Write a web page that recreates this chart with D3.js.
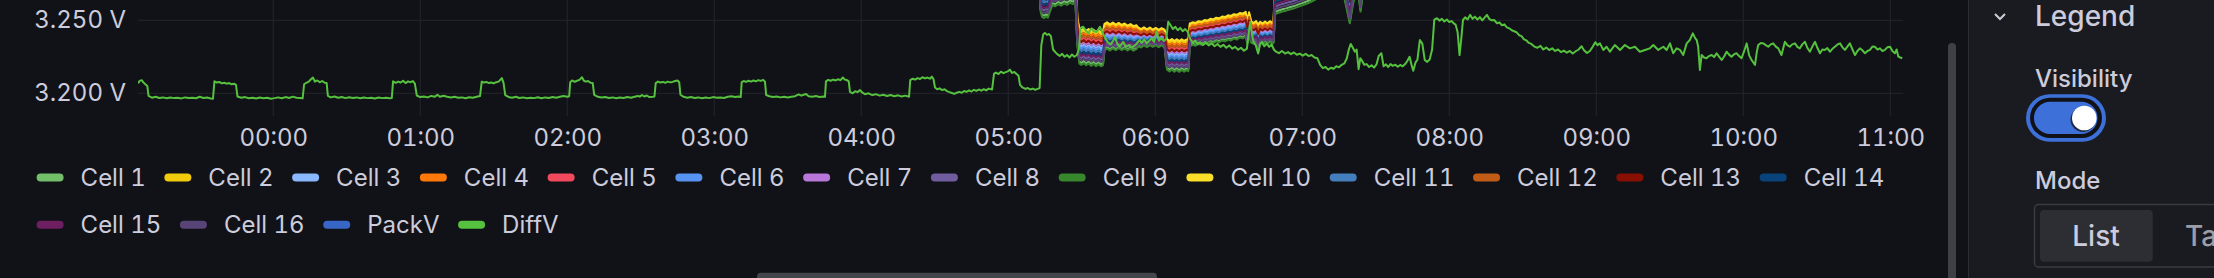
<!DOCTYPE html>
<html>
<head>
<meta charset="utf-8">
<script src="https://cdn.jsdelivr.net/npm/d3@7"></script>
<style>
  html, body { margin: 0; padding: 0; background: #111217; overflow: hidden; }
  svg { display: block; font-family: Inter, "Noto Sans", sans-serif; font-variant-numeric: tabular-nums; font-feature-settings: "tnum"; }
</style>
</head>
<body>
<svg id="chart" width="2214" height="278"></svg>
<script>
// series shown in the legend, in panel order
const seriesNames = ["Cell 1", "Cell 2", "Cell 3", "Cell 4", "Cell 5", "Cell 6", "Cell 7", "Cell 8",
  "Cell 9", "Cell 10", "Cell 11", "Cell 12", "Cell 13", "Cell 14", "Cell 15", "Cell 16", "PackV", "DiffV"];
const seriesColors = ["#73BF69", "#F2CC0C", "#8AB8FF", "#FF780A", "#F2495C", "#5794F2", "#B877D9", "#705DA0",
  "#37872D", "#FADE2A", "#447EBC", "#C15C17", "#890F02", "#0A437C", "#6D1F62", "#584477", "#3866C7", "#56C13E"];

const yTicks = [3.2, 3.25];

// DiffV: [minutes from 00:00, volts]
const diffV = [
  [-55.2, 3.2068], [-54.5, 3.2085], [-53.7, 3.2090], [-53, 3.2075], [-52.2, 3.2062], [-51.4, 3.2050], [-50.9, 3.1982],
  [-49.5, 3.1970], [-48, 3.1976], [-46.5, 3.1968], [-45, 3.1972], [-43.5, 3.1966], [-42, 3.1971], [-40.5, 3.1967],
  [-39, 3.1969], [-37.5, 3.1965], [-36, 3.1972], [-34.5, 3.1968], [-33, 3.1970], [-31.5, 3.1966], [-30, 3.1976],
  [-28.5, 3.1968], [-27, 3.1971], [-25.5, 3.1965], [-24.6, 3.1963], [-24, 3.2082], [-23, 3.2074], [-22, 3.2078],
  [-21, 3.2068], [-20, 3.2072], [-19, 3.2066], [-18, 3.2070], [-17, 3.2062], [-16, 3.2066], [-15.2, 3.2058],
  [-14.6, 3.1978], [-13, 3.1970], [-11.5, 3.1974], [-10, 3.1966], [-8.5, 3.1970], [-7, 3.1965], [-5.5, 3.1971],
  [-4, 3.1966], [-2.5, 3.1969], [-1, 3.1963], [0.5, 3.1967], [2, 3.1972], [3.5, 3.1966], [5, 3.1974], [6.5, 3.1968],
  [8, 3.1977], [9.5, 3.1970], [11, 3.1968], [12, 3.1966], [12.6, 3.2062], [13.5, 3.2072], [14.5, 3.2080],
  [15.5, 3.2098], [16.2, 3.2108], [17, 3.2080], [18, 3.2088], [19, 3.2076], [20, 3.2084], [21, 3.2072],
  [21.8, 3.2070], [22.3, 3.1982], [23.5, 3.1972], [25, 3.1978], [26.5, 3.1970], [28, 3.1975], [29.5, 3.1967],
  [31, 3.1973], [32.5, 3.1968], [34, 3.1972], [35.5, 3.1966], [37, 3.1971], [38.5, 3.1967], [40, 3.1970],
  [41.5, 3.1965], [43, 3.1971], [44.5, 3.1967], [46, 3.1970], [47.5, 3.1966], [48.4, 3.1968], [48.9, 3.2082],
  [50, 3.2072], [51, 3.2080], [52, 3.2074], [53, 3.2086], [54, 3.2070], [55, 3.2082], [56, 3.2076], [57, 3.2084],
  [57.8, 3.2066], [58.6, 3.1985], [60, 3.1974], [61.5, 3.1978], [63, 3.1972], [64.5, 3.1982], [66, 3.1977],
  [67, 3.1990], [68, 3.1976], [69.5, 3.1983], [71, 3.1976], [72.5, 3.1972], [74, 3.1976], [75.5, 3.1969],
  [77, 3.1972], [78.5, 3.1966], [80, 3.1973], [81.5, 3.1970], [83, 3.1976], [84.4, 3.1981], [85.1, 3.2080],
  [86, 3.2074], [87, 3.2078], [88, 3.2070], [89, 3.2074], [90, 3.2068], [91, 3.2076], [92, 3.2080], [93.3, 3.2104],
  [94, 3.2072], [94.7, 3.1988], [96, 3.1975], [97.5, 3.1970], [99, 3.1976], [100.5, 3.1968], [102, 3.1972],
  [103.5, 3.1966], [105, 3.1970], [106.5, 3.1967], [108, 3.1973], [109.5, 3.1966], [111, 3.1972], [112.5, 3.1968],
  [114, 3.1975], [115.5, 3.1970], [117, 3.1976], [118.5, 3.1982], [120, 3.1977], [120.8, 3.1980], [121.2, 3.2076],
  [122, 3.2088], [123, 3.2079], [124, 3.2086], [125, 3.2092], [126, 3.2110], [126.8, 3.2086], [127.6, 3.2080],
  [128.5, 3.2084], [129.5, 3.2072], [130.4, 3.2070], [131, 3.1990], [132.5, 3.1976], [134, 3.1971], [135.5, 3.1975],
  [137, 3.1968], [138.5, 3.1972], [140, 3.1966], [141.5, 3.1971], [143, 3.1968], [144.5, 3.1974], [146, 3.1969],
  [147.5, 3.1976], [148.8, 3.1982], [149.6, 3.1977], [150.5, 3.1988], [151.5, 3.1978], [152.5, 3.1985],
  [153.5, 3.1974], [155, 3.1976], [155.6, 3.1978], [156.1, 3.2070], [157, 3.2080], [158, 3.2074], [159, 3.2078],
  [160, 3.2072], [161, 3.2080], [162, 3.2075], [163, 3.2078], [164, 3.2084], [165, 3.2088], [165.7, 3.2076],
  [166.2, 3.1990], [167.5, 3.1976], [169, 3.1970], [170.5, 3.1974], [172, 3.1968], [173.5, 3.1972], [175, 3.1966],
  [176.5, 3.1971], [178, 3.1967], [179.5, 3.1974], [181, 3.1969], [182.5, 3.1972], [184, 3.1968], [185.5, 3.1976],
  [187, 3.1980], [188.5, 3.1974], [190, 3.1978], [190.8, 3.1974], [191.2, 3.2076], [192, 3.2084], [193, 3.2078],
  [194, 3.2086], [195, 3.2080], [196, 3.2088], [197, 3.2082], [198, 3.2090], [199, 3.2085], [200, 3.2092],
  [200.7, 3.2080], [201.2, 3.1988], [202.5, 3.1980], [204, 3.1974], [205.5, 3.1978], [207, 3.1972], [208.5, 3.1977],
  [210, 3.1971], [211.5, 3.1976], [213, 3.1980], [214.5, 3.1992], [215.5, 3.1984], [216.5, 3.1990], [217.5, 3.1995],
  [218.5, 3.1980], [220, 3.1976], [221.5, 3.1981], [223, 3.1975], [224.5, 3.1978], [225.2, 3.1976], [225.6, 3.2082],
  [226.5, 3.2092], [227.5, 3.2086], [228.5, 3.2094], [229.5, 3.2088], [230.5, 3.2096], [231.5, 3.2090],
  [232.5, 3.2108], [233.3, 3.2094], [234.2, 3.2090], [234.9, 3.2082], [235.4, 3.2010], [236.5, 3.2000],
  [237.5, 3.2014], [238.5, 3.2008], [239.5, 3.2022], [240.5, 3.2004], [241.5, 3.1994], [243, 3.2000],
  [244.5, 3.1988], [246, 3.1994], [247.5, 3.1984], [249, 3.1990], [250.5, 3.1982], [252, 3.1988], [253.5, 3.1980],
  [255, 3.1986], [256.5, 3.1978], [258, 3.1984], [259.5, 3.1976], [260, 3.2090], [261, 3.2100], [262, 3.2094],
  [263, 3.2104], [264, 3.2098], [265, 3.2110], [266, 3.2102], [267, 3.2108], [268, 3.2100], [268.8, 3.2114],
  [269.5, 3.2096], [270.1, 3.2040], [271, 3.2028], [272, 3.2034], [273, 3.2022], [274, 3.2028], [275, 3.2015],
  [276, 3.2008], [277, 3.2002], [278, 3.1996], [279, 3.2004], [280, 3.2010], [281, 3.2004], [282, 3.2016],
  [283, 3.2010], [284, 3.2020], [285, 3.2012], [286, 3.2024], [287, 3.2016], [288, 3.2026], [289, 3.2018],
  [290, 3.2028], [291, 3.2020], [292, 3.2032], [293.4, 3.2026], [294.2, 3.2135], [295, 3.2142], [296, 3.2132],
  [297, 3.2148], [298, 3.2138], [299, 3.2145], [300, 3.2152], [300.7, 3.2162], [301.5, 3.2140], [302.5, 3.2146],
  [303.5, 3.2130], [304.2, 3.2120], [304.8, 3.2058], [305.8, 3.2040], [307, 3.2030], [308, 3.2036], [309, 3.2026],
  [310, 3.2032], [311, 3.2024], [312, 3.2030], [312.8, 3.2036], [313.5, 3.2330], [314.3, 3.2405], [315, 3.2414],
  [315.8, 3.2400], [316.6, 3.2406], [317.4, 3.2392], [318.3, 3.2300], [319.2, 3.2282], [320, 3.2268],
  [321, 3.2256], [322, 3.2270], [323, 3.2250], [324, 3.2262], [325, 3.2245], [326, 3.2266], [327, 3.2250],
  [328, 3.2262], [328.8, 3.2300], [329.5, 3.2448], [330.6, 3.2456], [331.6, 3.2430], [332.7, 3.2411],
  [334, 3.2445], [335, 3.2425], [336.1, 3.2420], [337.4, 3.2456], [338.6, 3.2411], [339.6, 3.2378],
  [340.6, 3.2350], [341.8, 3.2335], [342.8, 3.2360], [343.6, 3.2385], [344.5, 3.2338], [345.5, 3.2322],
  [346.9, 3.2353], [348, 3.2318], [349.2, 3.2330], [350.3, 3.2315], [351.2, 3.2322], [352.4, 3.2340],
  [353.5, 3.2365], [354.5, 3.2345], [355.5, 3.2370], [356.5, 3.2342], [357.5, 3.2360], [358.5, 3.2375],
  [359.5, 3.2352], [360.6, 3.2425], [361.5, 3.2360], [362.5, 3.2378], [363.5, 3.2358], [364.5, 3.2372],
  [365.3, 3.2490], [366.2, 3.2468], [367.2, 3.2440], [368.2, 3.2455], [369.2, 3.2432], [370.2, 3.2448],
  [371.2, 3.2425], [372.2, 3.2440], [373.2, 3.2422], [374.2, 3.2375], [375.3, 3.2345], [376.3, 3.2362],
  [377.3, 3.2338], [378.3, 3.2350], [379.5, 3.2330], [380.6, 3.2348], [381.8, 3.2328], [383, 3.2342],
  [384.2, 3.2322], [385.4, 3.2338], [386.6, 3.2318], [387.8, 3.2332], [389, 3.2312], [390.2, 3.2328],
  [391.4, 3.2306], [392.6, 3.2318], [393.8, 3.2298], [395, 3.2312], [396.2, 3.2292], [397.4, 3.2305],
  [398.2, 3.2420], [398.8, 3.2490], [399.5, 3.2400], [400.2, 3.2350], [401, 3.2330], [402, 3.2272],
  [402.8, 3.2340], [403.6, 3.2352], [404.5, 3.2322], [405.5, 3.2340], [406.5, 3.2318], [407.5, 3.2335],
  [408.4, 3.2300], [409.3, 3.2285], [410.5, 3.2275], [411.7, 3.2290], [413, 3.2272], [414.2, 3.2282],
  [415.4, 3.2268], [416.6, 3.2280], [417.8, 3.2264], [419, 3.2272], [420.2, 3.2258], [421.4, 3.2270],
  [422.6, 3.2255], [423.8, 3.2262], [425, 3.2245], [426.2, 3.2240], [427.3, 3.2195], [428.4, 3.2172],
  [429.5, 3.2180], [430.6, 3.2162], [431.7, 3.2175], [432.8, 3.2168], [433.9, 3.2185], [435, 3.2178],
  [436.1, 3.2195], [437.2, 3.2205], [438.2, 3.2240], [439, 3.2300], [439.8, 3.2338], [440.7, 3.2310],
  [441.5, 3.2285], [442.2, 3.2300], [443, 3.2165], [443.7, 3.2240], [444.5, 3.2220], [445.3, 3.2195],
  [446.3, 3.2200], [447.3, 3.2180], [448.3, 3.2192], [449.3, 3.2176], [450.3, 3.2198], [451.2, 3.2255],
  [452.3, 3.2274], [453.2, 3.2185], [454.2, 3.2198], [455.1, 3.2180], [456, 3.2200], [457, 3.2188],
  [458, 3.2196], [459, 3.2182], [460, 3.2194], [461, 3.2185], [462, 3.2200], [463, 3.2225], [463.8, 3.2250],
  [464.6, 3.2195], [465.3, 3.2155], [466.2, 3.2210], [467, 3.2230], [468, 3.2365], [469, 3.2340], [470, 3.2228],
  [471, 3.2215], [472, 3.2232], [473, 3.2300], [473.9, 3.2505], [475, 3.2514], [476, 3.2498], [477, 3.2510],
  [478, 3.2492], [479, 3.2505], [480, 3.2488], [481, 3.2495], [481.8, 3.2479], [482.6, 3.2470], [483.4, 3.2420],
  [484.2, 3.2262], [485, 3.2390], [485.6, 3.2502], [486.5, 3.2520], [487.5, 3.2506], [488.5, 3.2537],
  [489.5, 3.2510], [490.5, 3.2525], [491.5, 3.2505], [492.5, 3.2522], [493.5, 3.2500], [494.5, 3.2520],
  [495.4, 3.2537], [496.3, 3.2510], [497.3, 3.2500], [498.3, 3.2502], [499.5, 3.2480], [500.5, 3.2485],
  [501.5, 3.2466], [502.5, 3.2472], [503.5, 3.2452], [504.5, 3.2445], [505.5, 3.2432], [506.5, 3.2425],
  [507.5, 3.2418], [508.5, 3.2398], [509.5, 3.2392], [510.5, 3.2370], [511.5, 3.2362], [512.5, 3.2345],
  [513.5, 3.2338], [514.7, 3.2320], [516, 3.2312], [517.2, 3.2325], [518.4, 3.2300], [519.6, 3.2314],
  [520.8, 3.2296], [522, 3.2308], [523.2, 3.2290], [524.4, 3.2300], [525.6, 3.2282], [526.8, 3.2292],
  [528, 3.2278], [529.2, 3.2290], [530.4, 3.2272], [531.6, 3.2288], [532.8, 3.2300], [534, 3.2322],
  [535, 3.2295], [536.2, 3.2276], [537.4, 3.2290], [538.6, 3.2320], [539.6, 3.2350], [540.5, 3.2330],
  [541.5, 3.2342], [542.9, 3.2297], [544.2, 3.2319], [545.6, 3.2285], [547.6, 3.2331], [549.7, 3.2297],
  [551.7, 3.2331], [553.7, 3.2308], [555.8, 3.2319], [557.8, 3.2285], [559.9, 3.2297], [561.9, 3.2308],
  [563.3, 3.2331], [565.3, 3.2297], [567.4, 3.2319], [568.7, 3.2297], [570.1, 3.2342], [571.4, 3.2274],
  [572.8, 3.2308], [574.2, 3.2297], [575.5, 3.2262], [576.9, 3.2342], [578.2, 3.2365], [579.4, 3.2411],
  [580.3, 3.2380], [581, 3.2365], [581.6, 3.2319], [582.3, 3.2160], [583, 3.2262], [584, 3.2245], [585, 3.2240],
  [586, 3.2255], [587.1, 3.2262], [588.1, 3.2248], [589.1, 3.2274], [590.2, 3.2250], [591.2, 3.2228],
  [592.2, 3.2252], [593.2, 3.2285], [594.2, 3.2265], [595.2, 3.2251], [596.3, 3.2268], [597.3, 3.2274],
  [598.3, 3.2255], [599.3, 3.2240], [600.4, 3.2290], [601.4, 3.2342], [602.4, 3.2260], [603.4, 3.2228],
  [604.8, 3.2194], [605.5, 3.2280], [606.1, 3.2331], [607.2, 3.2345], [608.2, 3.2342], [609.2, 3.2330],
  [610.2, 3.2319], [611.2, 3.2335], [612.2, 3.2342], [613.3, 3.2320], [614.3, 3.2308], [615.6, 3.2262],
  [617, 3.2353], [618, 3.2330], [619, 3.2319], [620, 3.2335], [621.1, 3.2342], [622.1, 3.2318], [623.1, 3.2308],
  [624.1, 3.2335], [625.2, 3.2353], [626.2, 3.2310], [627.2, 3.2285], [628.2, 3.2320], [629.3, 3.2353],
  [630.3, 3.2310], [631.3, 3.2274], [632.3, 3.2300], [633.3, 3.2297], [634.3, 3.2310], [635.4, 3.2285],
  [636.4, 3.2305], [637.4, 3.2319], [638.5, 3.2335], [639.5, 3.2342], [640.5, 3.2315], [641.5, 3.2297],
  [642.5, 3.2320], [643.5, 3.2342], [644.6, 3.2300], [645.6, 3.2262], [646.6, 3.2290], [647.6, 3.2308],
  [648.6, 3.2295], [649.7, 3.2274], [650.7, 3.2290], [651.7, 3.2297], [652.7, 3.2320], [653.7, 3.2319],
  [654.8, 3.2300], [655.8, 3.2308], [656.8, 3.2290], [657.8, 3.2297], [658.8, 3.2315], [659.9, 3.2319],
  [660.9, 3.2290], [661.9, 3.2274], [662.6, 3.2300], [663.3, 3.2251], [664.1, 3.2245], [664.9, 3.2240]
];

// the 16 cell lines run as a tight band: lowest and highest cell per timestamp (minutes from 00:00)
const bandTimes = [-55.2, 312.6, 313.2, 313.8, 314.6, 315.4, 316.2, 317.0, 318.0, 319.2, 320.4, 321.6, 322.8, 324.0,
  325.2, 326.4, 327.4, 328.2, 329.0, 329.8, 330.8, 331.8, 332.8, 333.8, 334.8, 335.8, 336.8, 337.8, 338.7, 339.3,
  340.3, 341.5, 342.7, 343.9, 345.1, 346.3, 347.5, 348.7, 349.9, 351.1, 352.3, 353.0, 354.2, 355.4, 356.6, 357.8,
  359.0, 360.2, 361.4, 362.6, 363.8, 364.8, 365.8, 366.8, 367.8, 368.8, 369.8, 370.8, 371.8, 372.8, 373.5, 374.1,
  375.3, 376.5, 377.7, 378.9, 380.1, 381.3, 382.5, 383.7, 384.9, 386.1, 387.3, 388.5, 389.7, 390.9, 392.1, 393.3,
  394.5, 395.7, 396.9, 397.6, 398.3, 399.2, 400.2, 401.2, 402.0, 402.8, 403.8, 404.8, 405.8, 406.8, 407.8, 408.3,
  408.9, 410.4, 411.9, 413.4, 414.9, 416.4, 418.0, 420.0, 422.0, 424.0, 426.0, 428.0, 436.8, 438.0, 439.4, 440.6,
  441.6, 442.8, 443.8, 444.8, 665.2];
const bandLow = [3.2720, 3.2740, 3.2560, 3.2522, 3.2516, 3.2524, 3.2518, 3.2560, 3.2602, 3.2596, 3.2610, 3.2600,
  3.2615, 3.2605, 3.2620, 3.2612, 3.2625, 3.2330, 3.2205, 3.2194, 3.2206, 3.2192, 3.2204, 3.2188, 3.2200, 3.2186,
  3.2198, 3.2185, 3.2192, 3.2296, 3.2306, 3.2294, 3.2308, 3.2295, 3.2310, 3.2296, 3.2308, 3.2294, 3.2306, 3.2292,
  3.2302, 3.2322, 3.2314, 3.2328, 3.2316, 3.2330, 3.2318, 3.2330, 3.2316, 3.2328, 3.2314, 3.2162, 3.2150, 3.2162,
  3.2148, 3.2160, 3.2147, 3.2160, 3.2148, 3.2158, 3.2152, 3.2322, 3.2332, 3.2326, 3.2338, 3.2332, 3.2344, 3.2338,
  3.2350, 3.2344, 3.2356, 3.2350, 3.2362, 3.2356, 3.2368, 3.2362, 3.2375, 3.2368, 3.2382, 3.2376, 3.2390, 3.2340,
  3.2392, 3.2345, 3.2338, 3.2350, 3.2280, 3.2348, 3.2336, 3.2350, 3.2338, 3.2352, 3.2340, 3.2346, 3.2540, 3.2552,
  3.2560, 3.2566, 3.2574, 3.2580, 3.2590, 3.2602, 3.2615, 3.2630, 3.2648, 3.2665, 3.2680, 3.2590, 3.2480, 3.2600,
  3.2680, 3.2690, 3.2560, 3.2690, 3.2700];
const bandHigh = [3.2960, 3.2980, 3.2820, 3.2785, 3.2780, 3.2788, 3.2782, 3.2820, 3.2862, 3.2856, 3.2870, 3.2862,
  3.2875, 3.2868, 3.2880, 3.2874, 3.2885, 3.2520, 3.2445, 3.2432, 3.2444, 3.2428, 3.2440, 3.2424, 3.2436, 3.2420,
  3.2432, 3.2418, 3.2425, 3.2476, 3.2486, 3.2472, 3.2484, 3.2470, 3.2482, 3.2468, 3.2478, 3.2464, 3.2474, 3.2460,
  3.2466, 3.2452, 3.2440, 3.2452, 3.2438, 3.2450, 3.2436, 3.2448, 3.2434, 3.2446, 3.2436, 3.2372, 3.2360, 3.2372,
  3.2358, 3.2370, 3.2358, 3.2370, 3.2360, 3.2368, 3.2365, 3.2478, 3.2486, 3.2482, 3.2494, 3.2490, 3.2502, 3.2498,
  3.2510, 3.2506, 3.2518, 3.2514, 3.2526, 3.2522, 3.2534, 3.2530, 3.2542, 3.2538, 3.2550, 3.2546, 3.2558, 3.2500,
  3.2555, 3.2490, 3.2482, 3.2494, 3.2470, 3.2490, 3.2478, 3.2492, 3.2480, 3.2494, 3.2482, 3.2486, 3.2800, 3.2812,
  3.2820, 3.2826, 3.2834, 3.2840, 3.2850, 3.2862, 3.2875, 3.2890, 3.2905, 3.2920, 3.2935, 3.2830, 3.2700, 3.2840,
  3.2935, 3.2940, 3.2790, 3.2940, 3.2955];
// where each cell sits inside the band (0 = lowest, 1 = highest), Cell 1 .. Cell 16
const cellRank = [0.06, 0.94, 0.53, 0.87, 0.73, 0.47, 0.60, 0.20, 0.00, 1.00, 0.40, 0.80, 0.66, 0.33, 0.26, 0.13];
// PackV (pack total, ~52 V) lies far above this axis range, nothing of it is in view
const packV = [];

const svg = d3.select("#chart");
const plot = { left: 138, right: 1903, bottom: 116 };
const day0 = Date.UTC(2024, 0, 15);
const toDate = m => new Date(day0 + m * 60000);

const x = d3.scaleUtc()
  .domain([toDate(-55.2), toDate(665.2)])
  .range([plot.left, plot.right]);
const y = d3.scaleLinear()
  .domain([3.2, 3.25])
  .range([93.3, 20.3]);

svg.append("defs").append("clipPath").attr("id", "plotClip")
  .append("rect")
    .attr("x", plot.left).attr("y", -200)
    .attr("width", plot.right - plot.left).attr("height", plot.bottom + 200);

// grid
const hours = x.ticks(d3.utcHour.every(1));
svg.append("g")
  .selectAll("line")
  .data(hours)
  .join("line")
    .attr("x1", d => x(d)).attr("x2", d => x(d))
    .attr("y1", 0).attr("y2", plot.bottom)
    .attr("stroke", "#25262b");
svg.append("g")
  .selectAll("line")
  .data(yTicks)
  .join("line")
    .attr("x1", plot.left).attr("x2", plot.right)
    .attr("y1", d => y(d)).attr("y2", d => y(d))
    .attr("stroke", "#25262b");

// axes
svg.append("g")
  .attr("transform", `translate(0,146)`)
  .call(d3.axisBottom(x)
    .ticks(d3.utcHour.every(1))
    .tickFormat(d3.utcFormat("%H:%M"))
    .tickSize(0).tickPadding(0))
  .call(g => g.select(".domain").remove())
  .attr("font-size", 24).attr("font-family", null)
  .call(g => g.selectAll("text").attr("y", 0).attr("dy", null).attr("fill", "#ccccdc"));

svg.append("g")
  .attr("transform", `translate(${plot.left},0)`)
  .call(d3.axisLeft(y)
    .tickValues(yTicks)
    .tickFormat(d => d3.format(".3f")(d) + " V")
    .tickSize(0).tickPadding(12))
  .call(g => g.select(".domain").remove())
  .attr("font-size", 24).attr("font-family", null)
  .call(g => g.selectAll("text").attr("dy", "0.32em").attr("fill", "#ccccdc"));

// series
const line = d3.line()
  .defined(d => d[1] != null)
  .x(d => x(toDate(d[0])))
  .y(d => y(d[1]));

const series = cellRank.map((r, i) => ({
  name: seriesNames[i],
  color: seriesColors[i],
  values: bandTimes.map((t, j) => [t, bandLow[j] + r * (bandHigh[j] - bandLow[j])])
}));
series.push({ name: "PackV", color: seriesColors[16], values: packV });
series.push({ name: "DiffV", color: seriesColors[17], values: diffV });

svg.append("g")
  .attr("clip-path", "url(#plotClip)")
  .selectAll("path")
  .data(series)
  .join("path")
    .attr("d", d => line(d.values))
    .attr("fill", "none")
    .attr("stroke", d => d.color)
    .attr("stroke-width", 2)
    .attr("stroke-linejoin", "round");

// legend
const legend = svg.append("g").attr("font-size", 24).attr("fill", "#ccccdc");
const rowY = [177.6, 224.8];
let lx = 36.6, row = 0;
seriesNames.forEach((name, i) => {
  const item = legend.append("g");
  const label = item.append("text").attr("x", 44).attr("dy", "0.36em").text(name);
  const w = label.node().getComputedTextLength();
  if (lx + 44 + w > 1905) { row++; lx = 36.6; }
  item.attr("transform", `translate(${lx},${rowY[row]})`);
  item.insert("rect", "text")
    .attr("y", -4).attr("width", 27).attr("height", 8).attr("rx", 4)
    .attr("fill", seriesColors[i]);
  lx += 44 + w + 18.6;
});

// scrollbars
svg.append("rect").attr("x", 1948).attr("y", 43).attr("width", 8).attr("height", 250).attr("rx", 4).attr("fill", "#3f4046");
svg.append("rect").attr("x", 757).attr("y", 272.7).attr("width", 400).attr("height", 12).attr("rx", 4).attr("fill", "#45464c");

// options pane
const pane = svg.append("g");
pane.append("rect").attr("x", 1968).attr("y", 0).attr("width", 246).attr("height", 278).attr("fill", "#1a1b20");
pane.append("line").attr("x1", 1968.5).attr("x2", 1968.5).attr("y1", 0).attr("y2", 278).attr("stroke", "#2c2d33");
pane.append("path").attr("d", "M1995,14 L2000,19 L2005,14").attr("fill", "none")
  .attr("stroke", "#ccccdc").attr("stroke-width", 2);
pane.append("text").attr("x", 2035).attr("y", 26).attr("font-size", 28).attr("font-weight", 500)
  .attr("fill", "#ccccdc").text("Legend");
pane.append("text").attr("x", 2035).attr("y", 87).attr("font-size", 24).attr("font-weight", 500)
  .attr("fill", "#ccccdc").text("Visibility");
pane.append("rect").attr("x", 2026).attr("y", 94.3).attr("width", 80).attr("height", 47.4).attr("rx", 23.7).attr("fill", "#3d71d9");
pane.append("rect").attr("x", 2030).attr("y", 97.8).attr("width", 72).attr("height", 40.2).attr("rx", 20.1).attr("fill", "#111217");
pane.append("rect").attr("x", 2034).attr("y", 101.7).attr("width", 63.5).attr("height", 32.4).attr("rx", 16.2).attr("fill", "#3d71d9");
pane.append("circle").attr("cx", 2083).attr("cy", 119.5).attr("r", 12.5).attr("fill", "#1f2a48");
pane.append("circle").attr("cx", 2084.3).attr("cy", 118).attr("r", 12.3).attr("fill", "#ffffff");
pane.append("text").attr("x", 2035).attr("y", 189).attr("font-size", 24).attr("font-weight", 500)
  .attr("fill", "#ccccdc").text("Mode");
pane.append("rect").attr("x", 2034.5).attr("y", 204.5).attr("width", 300).attr("height", 62.5).attr("rx", 4)
  .attr("fill", "none").attr("stroke", "#3a3b41").attr("stroke-width", 1.5);
pane.append("rect").attr("x", 2040).attr("y", 210).attr("width", 112.7).attr("height", 51.7).attr("rx", 4).attr("fill", "#2d2e34");
pane.append("text").attr("x", 2096).attr("y", 246).attr("text-anchor", "middle").attr("font-size", 28).attr("font-weight", 500)
  .attr("fill", "#ccccdc").text("List");
pane.append("text").attr("x", 2185).attr("y", 246).attr("font-size", 28).attr("font-weight", 500)
  .attr("fill", "#9d9da8").text("Table");
</script>
</body>
</html>
